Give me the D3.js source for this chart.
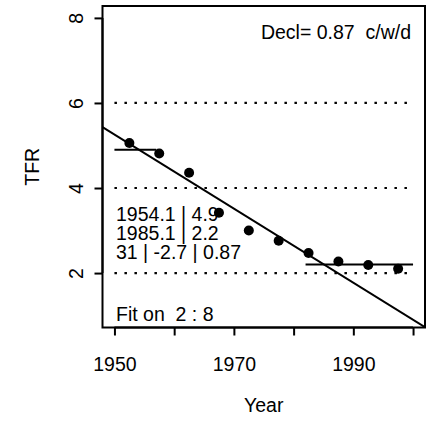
<!DOCTYPE html>
<html>
<head>
<meta charset="utf-8">
<script src="https://cdn.jsdelivr.net/npm/d3@7"></script>
<style>
  html, body { margin: 0; padding: 0; background: #fff; }
  svg { display: block; }
  text { font-family: "Liberation Sans", Arial, Helvetica, sans-serif; fill: #000; white-space: pre; }
</style>
</head>
<body>
<svg id="chart" width="435" height="421"></svg>
<script>
// ---- data ----
const years = [1952.5, 1957.5, 1962.5, 1967.5, 1972.5, 1977.5, 1982.5, 1987.5, 1992.5, 1997.5];
const tfr   = [5.06, 4.81, 4.36, 3.42, 3.00, 2.76, 2.47, 2.27, 2.19, 2.10];
const xTicks = [1950, 1960, 1970, 1980, 1990, 2000];
const xTickLabels = ["1950", "", "1970", "", "1990", ""];
const yTicks = [2, 4, 6, 8];
const refLevels = [2, 4, 6];
const plateaus = [ {x0: 1950, x1: 1957, y: 4.9}, {x0: 1982, x1: 2000, y: 2.2} ];
const breaks = [ {x: 1954.1, y: 4.9}, {x: 1985.1, y: 2.2} ];
const annot = ["1954.1 | 4.9", "1985.1 | 2.2", "31 | -2.7 | 0.87"];
const fitText = "Fit on  2 : 8";
const declText = "Decl= 0.87  c/w/d";
const xDomain = [1948, 2002];
const yDomain = [0.72, 8.28];

// ---- layout ----
const svg = d3.select("#chart");
const L = 102.5, R = 425, T = 6, B = 327.5;
const fs = 19.5;
const x = d3.scaleLinear().domain(xDomain).range([L, R]);
const y = d3.scaleLinear().domain(yDomain).range([B, T]);

// dotted reference lines
svg.append("g").selectAll("line").data(refLevels).join("line")
  .attr("x1", x(1950)).attr("x2", x(2000))
  .attr("y1", d => y(d)).attr("y2", d => y(d))
  .attr("stroke", "#000").attr("stroke-width", 2.2)
  .attr("stroke-dasharray", "2.5,7.5");

// clip for regression line
svg.append("clipPath").attr("id", "clip").append("rect")
  .attr("x", L).attr("y", T).attr("width", R - L).attr("height", B - T);

const slope = (breaks[1].y - breaks[0].y) / (breaks[1].x - breaks[0].x);
const fy = xx => breaks[0].y + slope * (xx - breaks[0].x);
svg.append("line")
  .attr("clip-path", "url(#clip)")
  .attr("x1", x(xDomain[0])).attr("y1", y(fy(xDomain[0])))
  .attr("x2", x(xDomain[1])).attr("y2", y(fy(xDomain[1])))
  .attr("stroke", "#000").attr("stroke-width", 2);

// plateaus
svg.append("g").selectAll("line").data(plateaus).join("line")
  .attr("x1", d => x(d.x0)).attr("x2", d => x(d.x1))
  .attr("y1", d => y(d.y)).attr("y2", d => y(d.y))
  .attr("stroke", "#000").attr("stroke-width", 2);

// points
svg.append("g").selectAll("circle").data(years.map((yr, i) => [yr, tfr[i]])).join("circle")
  .attr("cx", d => x(d[0])).attr("cy", d => y(d[1])).attr("r", 5)
  .attr("fill", "#000");

// box
svg.append("rect").attr("x", L).attr("y", T).attr("width", R - L).attr("height", B - T)
  .attr("fill", "none").attr("stroke", "#000").attr("stroke-width", 2);

// x axis
const xAxis = d3.axisBottom(x).tickValues(xTicks)
  .tickFormat((d, i) => xTickLabels[i]).tickSize(8).tickPadding(20);
const gx = svg.append("g").attr("transform", `translate(0,${B})`).call(xAxis);
gx.select(".domain").attr("d", `M${x(1950)},0H${x(2000)}`).attr("stroke-width", 2);
gx.selectAll(".tick line").attr("stroke-width", 2);
gx.selectAll(".tick text").attr("font-size", fs).attr("font-family", null).attr("dy", null)
  .attr("y", 43);

// y axis
const yAxis = d3.axisLeft(y).tickValues(yTicks).tickSize(8).tickFormat(d3.format("d"));
const gy = svg.append("g").attr("transform", `translate(${L},0)`).call(yAxis);
gy.select(".domain").attr("d", `M0,${y(2)}V${y(8)}`).attr("stroke-width", 2);
gy.selectAll(".tick line").attr("stroke-width", 2);
gy.selectAll(".tick text")
  .attr("font-size", fs).attr("font-family", null)
  .attr("x", null).attr("dy", null)
  .attr("text-anchor", "middle")
  .attr("transform", "translate(-20,0) rotate(-90)")
  .attr("y", 0);

// axis titles
svg.append("text").attr("x", (L + R) / 2).attr("y", 412)
  .attr("text-anchor", "middle").attr("font-size", fs).text("Year");
svg.append("text").attr("transform", `translate(39,${(T + B) / 2}) rotate(-90)`)
  .attr("text-anchor", "middle").attr("font-size", fs).text("TFR");

// annotations
svg.append("g").selectAll("text").data(annot).join("text")
  .attr("x", 116).attr("y", (d, i) => 221 + i * 19)
  .attr("font-size", fs).text(d => d);
svg.append("text").attr("x", 116).attr("y", 321).attr("font-size", fs).text(fitText);
svg.append("text").attr("x", 411).attr("y", 39).attr("text-anchor", "end")
  .attr("font-size", fs).text(declText);
</script>
</body>
</html>
